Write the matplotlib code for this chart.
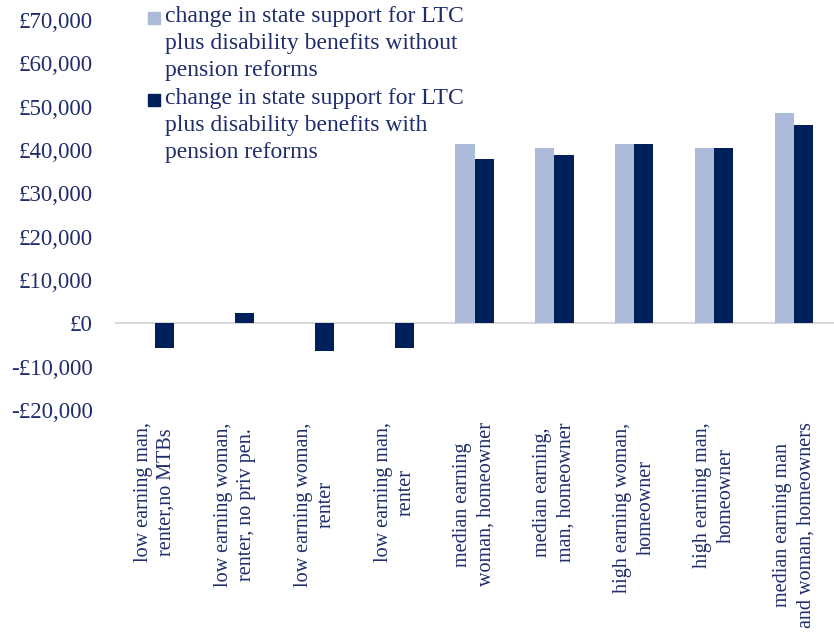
import numpy as np
import matplotlib
matplotlib.use('Agg')
import matplotlib.pyplot as plt
from matplotlib.patches import Rectangle
from matplotlib.ticker import FuncFormatter

# household types
categories = ['low earning man,\nrenter,no MTBs',
              'low earning woman,\nrenter, no priv pen.',
              'low earning woman,\nrenter',
              'low earning man,\nrenter',
              'median earning\nwoman, homeowner',
              'median earning,\nman, homeowner',
              'high earning woman,\nhomeowner',
              'high earning man,\nhomeowner',
              'median earning man\nand woman, homeowners']

# change in state support (GBP)
without_reforms = [0, 0, 0, 0, 41300, 40450, 41300, 40450, 48450]
with_reforms = [-5600, 2450, -6450, -5800, 38000, 38750, 41300, 40450, 45750]

label_without = 'change in state support for LTC\nplus disability benefits without\npension reforms'
label_with = 'change in state support for LTC\nplus disability benefits with\npension reforms'

light = '#ABBBD9'
dark = '#00205C'
txt = '#1F2D6B'

plt.rcParams['font.family'] = ['Liberation Serif', 'DejaVu Serif']

W, H = 834, 638
fig = plt.figure(figsize=(W/100, H/100), dpi=100)
ax = fig.add_axes([115/W, 1-410/H, 1-115/W, (410-20)/H])

x = np.arange(len(categories))
w = 0.24
ax.bar(x - w/2, without_reforms, w, color=light)
ax.bar(x + w/2, with_reforms, w, color=dark)

ax.set_xlim(-0.5, len(categories) - 0.5)
ax.set_ylim(-20000, 70000)
ax.set_yticks(np.arange(-20000, 70001, 10000))

def money(v, pos):
    if v < 0:
        return '-£{:,.0f}'.format(-v)
    return '£{:,.0f}'.format(v)

ax.yaxis.set_major_formatter(FuncFormatter(money))
ax.set_xticks(x)
ax.set_xticklabels(categories, rotation=90, ha='center', va='top',
                   multialignment='center', linespacing=1.3, fontsize=14.5)
ax.tick_params(axis='x', length=0, pad=9, colors=txt)
ax.tick_params(axis='y', length=0, pad=16, colors=txt, labelsize=16.5)

for s in ax.spines.values():
    s.set_visible(False)
ax.axhline(0, color='#D9D9D9', lw=1.5, zorder=0)

# legend, square next to the first line of each entry
for i, (lab, col) in enumerate([(label_without, light), (label_with, dark)]):
    base = 25 + i * 82
    fig.patches.append(Rectangle((148/W, 1 - (base - 1)/H), 12/W, 12/H,
                                 transform=fig.transFigure, color=col))
    fig.text(165/W, 1 - (base - 19)/H, lab, fontsize=17, color=txt,
             va='top', ha='left', linespacing=1.38)

fig.savefig('out.png', dpi=100)
